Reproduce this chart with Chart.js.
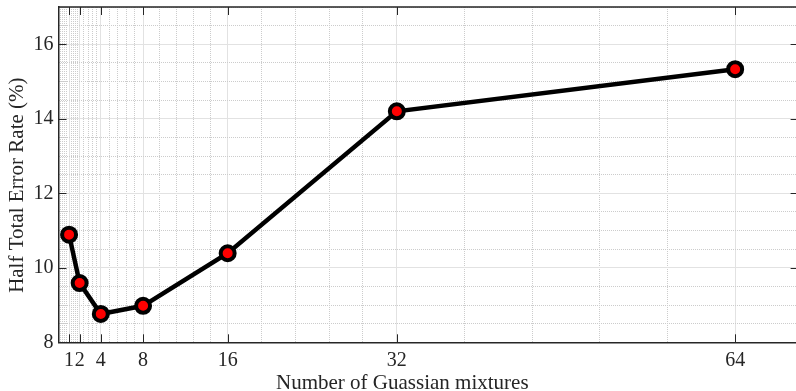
<!DOCTYPE html>
<html lang="en">
<head>
  <meta charset="UTF-8">
  <title>Half Total Error Rate vs Gaussian mixtures</title>
  <script src="https://cdn.jsdelivr.net/npm/chart.js"></script>
  <style>
    html, body { margin: 0; padding: 0; background: #fff; overflow: hidden; }
    .wrap { width: 796px; height: 391px; overflow: hidden; position: relative; }
    .box { width: 800px; height: 396px; position: absolute; left: 0; top: 0; }
  </style>
</head>
<body>
  <div class="wrap">
    <div class="box"><canvas id="hterChart"></canvas></div>
  </div>
  <script>
    // data
    const mixtures = [1, 2, 4, 8, 16, 32, 64];
    const hter = [10.89, 9.59, 8.76, 8.98, 10.39, 14.2, 15.33];

    // axes
    const xTicks = [1, 2, 4, 8, 16, 32, 64];
    const yTicks = [8, 10, 12, 14, 16];
    const xRange = [0, 70];
    const yRange = [8, 17];

    // minor grid: each x interval split in 5, y every 0.5
    const xMinor = [];
    [0].concat(xTicks).forEach((v, i, arr) => {
      const next = i + 1 < arr.length ? arr[i + 1] : v + (v - arr[i - 1]);
      const step = i === 0 ? (xTicks[1] - xTicks[0]) / 5 : (next - v) / 5;
      for (let k = 1; k < 5; k++) {
        const m = v + step * k;
        if (m < xRange[1]) xMinor.push(m);
      }
    });
    const yMinor = [];
    for (let v = yRange[0] + 0.5; v <= yRange[1]; v += 0.5) {
      if (!yTicks.includes(v)) yMinor.push(v);
    }

    const axisColor = '#262626';
    const serif = 'Liberation Serif, Times New Roman, serif';

    // box on top/right plus inward tick marks like matlab
    const boxTicks = {
      id: 'boxTicks',
      beforeDatasetsDraw(chart) {
        const { ctx, chartArea: a, scales } = chart;
        const len = 8;
        ctx.save();
        ctx.strokeStyle = axisColor;
        ctx.lineWidth = 1.5;
        ctx.beginPath();
        ctx.moveTo(a.left, a.top);
        ctx.lineTo(a.right, a.top);
        ctx.lineTo(a.right, a.bottom);
        ctx.stroke();
        ctx.lineWidth = 1;
        ctx.beginPath();
        xTicks.forEach(v => {
          const px = Math.round(scales.x.getPixelForValue(v)) + 0.5;
          ctx.moveTo(px, a.bottom); ctx.lineTo(px, a.bottom - len);
          ctx.moveTo(px, a.top); ctx.lineTo(px, a.top + len);
        });
        yTicks.forEach(v => {
          const py = Math.round(scales.y.getPixelForValue(v)) + 0.5;
          ctx.moveTo(a.left, py); ctx.lineTo(a.left + len, py);
          ctx.moveTo(a.right, py); ctx.lineTo(a.right - len, py);
        });
        ctx.stroke();
        ctx.restore();
      }
    };

    function noPad(scale) {
      scale.paddingTop = 0; scale.paddingBottom = 0;
      scale.paddingLeft = 0; scale.paddingRight = 0;
    }

    new Chart(document.getElementById('hterChart'), {
      type: 'line',
      data: {
        datasets: [{
          label: 'HTER',
          data: mixtures.map((m, i) => ({ x: m, y: hter[i] })),
          borderColor: '#000',
          borderWidth: 4.5,
          pointRadius: 7,
          pointHoverRadius: 7,
          pointBorderWidth: 4,
          pointBackgroundColor: '#ff0000',
          pointBorderColor: '#000',
          tension: 0,
          clip: false
        }]
      },
      options: {
        responsive: true,
        maintainAspectRatio: false,
        animation: false,
        devicePixelRatio: 1,
        layout: { autoPadding: false, padding: { top: 7, right: 1.4, left: 0, bottom: 0 } },
        plugins: { legend: { display: false }, tooltip: { enabled: false } },
        scales: {
          x: {
            type: 'linear',
            min: xRange[0], max: xRange[1],
            afterBuildTicks: s => { s.ticks = xTicks.map(v => ({ value: v })); },
            afterFit: s => { s.height = 53.7; noPad(s); },
            grid: { color: '#e2e2e2', lineWidth: 1, drawTicks: false },
            border: { display: true, color: axisColor, width: 1.5 },
            ticks: {
              autoSkip: false, maxRotation: 0, padding: 6,
              color: axisColor, font: { family: serif, size: 20 }
            },
            title: {
              display: true,
              text: 'Number of Guassian mixtures          ',
              color: axisColor,
              font: { family: serif, size: 21 },
              padding: { top: 0, bottom: 0 }
            }
          },
          xm: {
            type: 'linear', position: 'bottom',
            min: xRange[0], max: xRange[1],
            afterBuildTicks: s => { s.ticks = xMinor.map(v => ({ value: v })); },
            afterFit: s => { s.height = 0; noPad(s); },
            grid: { color: '#cccccc', lineWidth: 1, drawTicks: false },
            border: { display: false, dash: [1, 1] },
            ticks: { display: false }
          },
          y: {
            type: 'linear',
            min: yRange[0], max: yRange[1],
            afterBuildTicks: s => { s.ticks = yTicks.map(v => ({ value: v })); },
            afterFit: s => { s.width = 58.5; noPad(s); },
            grid: { color: '#e2e2e2', lineWidth: 1, drawTicks: false },
            border: { display: true, color: axisColor, width: 1.5 },
            ticks: {
              padding: 5, color: axisColor, font: { family: serif, size: 20 }
            },
            title: {
              display: true,
              text: 'Half Total Error Rate (%)    ',
              color: axisColor,
              font: { family: serif, size: 21 },
              padding: { top: 5, bottom: 0 }
            }
          },
          ym: {
            type: 'linear', position: 'left',
            min: yRange[0], max: yRange[1],
            afterBuildTicks: s => { s.ticks = yMinor.map(v => ({ value: v })); },
            afterFit: s => { s.width = 0; noPad(s); },
            grid: { color: '#cccccc', lineWidth: 1, drawTicks: false },
            border: { display: false, dash: [1, 1] },
            ticks: { display: false }
          }
        }
      },
      plugins: [boxTicks]
    });
  </script>
</body>
</html>
